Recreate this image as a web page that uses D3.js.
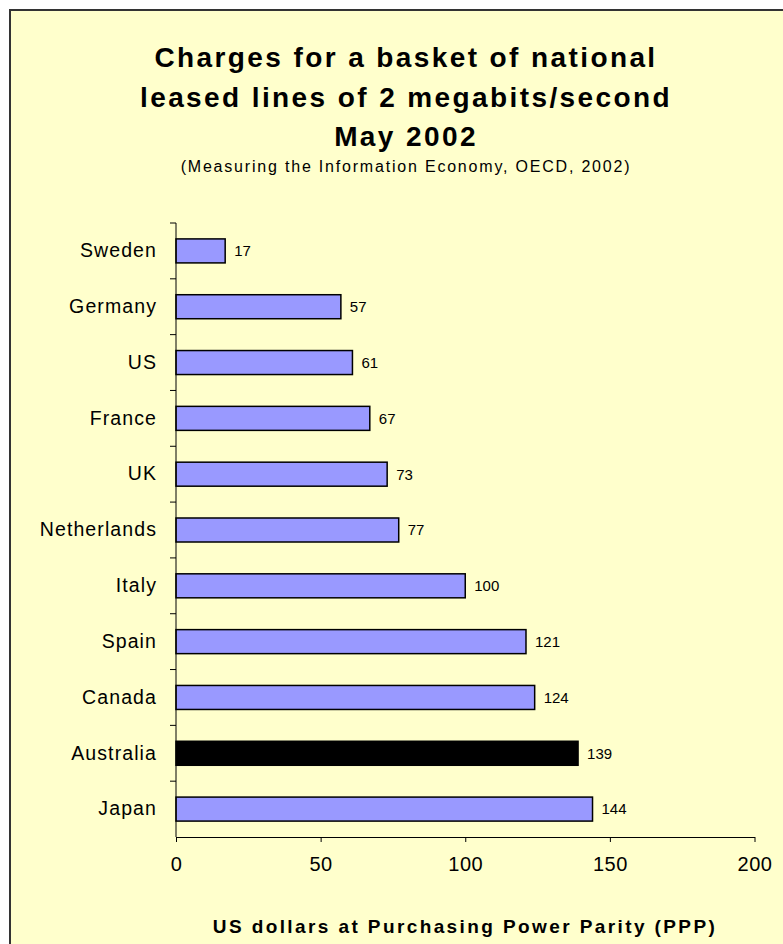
<!DOCTYPE html>
<html>
<head>
<meta charset="utf-8">
<title>Charges for a basket of national leased lines</title>
<script src="https://d3js.org/d3.v7.min.js"></script>
<style>
  body { margin: 0; background: #fff; }
  text { font-family: "Liberation Sans", Arial, sans-serif; fill: #000; }
</style>
</head>
<body>
<svg width="783" height="944"></svg>
<script>
// data
var countries = ["Sweden", "Germany", "US", "France", "UK", "Netherlands", "Italy", "Spain", "Canada", "Australia", "Japan"];
var charges = [17, 57, 61, 67, 73, 77, 100, 121, 124, 139, 144];
var highlight = "Australia";
var xTicks = [0, 50, 100, 150, 200];

var svg = d3.select("svg");

// frame
svg.append("rect")
    .attr("x", 10).attr("y", 10)
    .attr("width", 792).attr("height", 960)
    .attr("fill", "#FFFFCC")
    .attr("stroke", "#333")
    .attr("stroke-width", 2);

// titles
var titleLines = ["Charges for a basket of national", "leased lines of 2 megabits/second", "May 2002"];
svg.selectAll(".title")
    .data(titleLines)
    .enter().append("text")
    .attr("class", "title")
    .attr("x", 406)
    .attr("y", function (d, i) { return 67 + i * 39.5; })
    .attr("text-anchor", "middle")
    .style("font-size", "28px")
    .style("font-weight", "bold")
    .style("letter-spacing", "2.4px")
    .text(function (d) { return d; });

svg.append("text")
    .attr("x", 406).attr("y", 172)
    .attr("text-anchor", "middle")
    .style("font-size", "16px")
    .style("letter-spacing", "1.8px")
    .text("(Measuring the Information Economy, OECD, 2002)");

var x = d3.scaleLinear().domain([0, 200]).range([176, 754.5]);
var y = d3.scaleBand().domain(countries).range([223, 837])
    .paddingInner(0.57).paddingOuter(0.285);

var step = y.step();
var data = countries.map(function (c, i) { return { name: c, value: charges[i] }; });

// bars
svg.selectAll(".bar")
    .data(data)
    .enter().append("rect")
    .attr("class", "bar")
    .attr("x", x(0))
    .attr("y", function (d) { return y(d.name); })
    .attr("width", function (d) { return x(d.value) - x(0); })
    .attr("height", y.bandwidth())
    .attr("fill", function (d) { return d.name === highlight ? "#000" : "#9999FF"; })
    .attr("stroke", "#000")
    .attr("stroke-width", 1.5);

// value labels
svg.selectAll(".val")
    .data(data)
    .enter().append("text")
    .attr("class", "val")
    .attr("x", function (d) { return x(d.value) + 9; })
    .attr("y", function (d) { return y(d.name) + y.bandwidth() / 2; })
    .attr("dy", "0.36em")
    .style("font-size", "15px")
    .text(function (d) { return d.value; });

// y axis: labels only, boundary ticks drawn separately
var yAxis = svg.append("g")
    .attr("transform", "translate(" + x(0) + ",0)")
    .call(d3.axisLeft(y).tickSize(0).tickPadding(19));
yAxis.select(".domain").remove();
yAxis.selectAll("text")
    .style("font-family", "'Liberation Sans', Arial, sans-serif")
    .style("font-size", "19.5px")
    .style("letter-spacing", "1.1px")
    .attr("fill", "#000");

svg.append("line")
    .attr("x1", x(0)).attr("x2", x(0))
    .attr("y1", 223).attr("y2", 837)
    .attr("stroke", "#000");

svg.selectAll(".ytick")
    .data(d3.range(countries.length))
    .enter().append("line")
    .attr("class", "ytick")
    .attr("x1", x(0) - 6).attr("x2", x(0))
    .attr("y1", function (i) { return 223 + i * step; })
    .attr("y2", function (i) { return 223 + i * step; })
    .attr("stroke", "#000");

// x axis
var xAxis = svg.append("g")
    .attr("transform", "translate(0,837)")
    .call(d3.axisBottom(x).tickValues(xTicks).tickSize(5).tickPadding(15).tickSizeOuter(0));
xAxis.select(".domain").attr("stroke", "#000");
xAxis.selectAll("line").attr("stroke", "#000");
xAxis.selectAll("text")
    .style("font-family", "'Liberation Sans', Arial, sans-serif")
    .style("font-size", "20px")
    .style("letter-spacing", "0.5px")
    .attr("fill", "#000");

svg.append("text")
    .attr("x", 465).attr("y", 933)
    .attr("text-anchor", "middle")
    .style("font-size", "19px")
    .style("font-weight", "bold")
    .style("letter-spacing", "2.4px")
    .text("US dollars at Purchasing Power Parity (PPP)");
</script>
</body>
</html>
